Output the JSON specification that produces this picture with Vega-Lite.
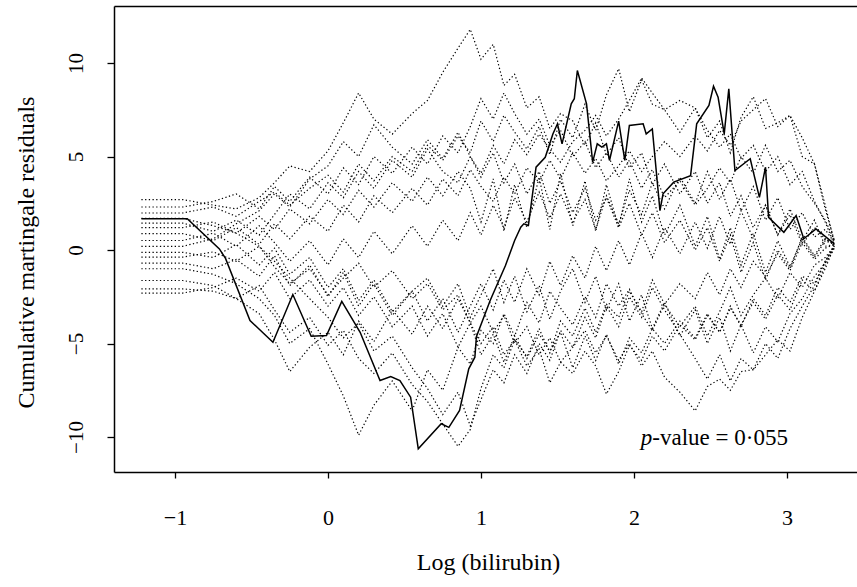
{
"$schema":"https://vega.github.io/schema/vega-lite/v6.json",
"width":743,"height":466,
"autosize":{"type":"none"},
"padding":{"left":114,"top":6,"right":0,"bottom":115},
"background":"white",
"config":{"view":{"stroke":null},"font":"Liberation Serif"},
"datasets":{
"obs":[
{"x":-1.22,"y":1.67},{"x":-0.92,"y":1.67},{"x":-0.71,"y":0.06},{"x":-0.67,"y":-0.45},{"x":-0.51,"y":-3.77},{"x":-0.36,"y":-4.93},{"x":-0.23,"y":-2.38},{"x":-0.11,"y":-4.61},{"x":-0.01,"y":-4.57},{"x":0.09,"y":-2.75},{"x":0.21,"y":-4.4},{"x":0.34,"y":-6.98},{"x":0.41,"y":-6.76},{"x":0.47,"y":-6.98},{"x":0.54,"y":-7.87},{"x":0.59,"y":-10.63},{"x":0.74,"y":-9.29},{"x":0.79,"y":-9.48},{"x":0.86,"y":-8.58},{"x":0.92,"y":-6.35},{"x":0.96,"y":-5.73},{"x":0.97,"y":-4.63},{"x":1.06,"y":-2.7},{"x":1.16,"y":-0.83},{"x":1.22,"y":0.51},{"x":1.26,"y":1.22},{"x":1.28,"y":1.4},{"x":1.31,"y":1.31},{"x":1.36,"y":4.43},{"x":1.42,"y":4.96},{"x":1.47,"y":6.21},{"x":1.5,"y":6.75},{"x":1.53,"y":5.68},{"x":1.59,"y":7.82},{"x":1.61,"y":8.09},{"x":1.63,"y":9.6},{"x":1.69,"y":7.82},{"x":1.73,"y":4.7},{"x":1.76,"y":5.68},{"x":1.79,"y":5.5},{"x":1.82,"y":5.68},{"x":1.84,"y":4.79},{"x":1.9,"y":6.89},{"x":1.94,"y":4.79},{"x":1.97,"y":6.66},{"x":2.06,"y":6.75},{"x":2.08,"y":6.21},{"x":2.12,"y":6.48},{"x":2.17,"y":2.11},{"x":2.19,"y":3.01},{"x":2.26,"y":3.63},{"x":2.37,"y":3.98},{"x":2.41,"y":6.75},{"x":2.49,"y":7.73},{"x":2.52,"y":8.76},{"x":2.55,"y":8.17},{"x":2.59,"y":6.21},{"x":2.62,"y":8.62},{"x":2.66,"y":4.25},{"x":2.76,"y":4.88},{"x":2.82,"y":2.82},{"x":2.86,"y":4.43},{"x":2.88,"y":1.75},{"x":2.98,"y":0.95},{"x":3.06,"y":1.84},{"x":3.11,"y":0.6},{"x":3.19,"y":1.13},{"x":3.31,"y":0.33}
],
"sim":[
{"r":"a","x":-1.22,"y":2.7},{"r":"a","x":-0.95,"y":2.7},{"r":"a","x":-0.75,"y":2.4},{"r":"a","x":-0.6,"y":2.2},{"r":"a","x":-0.45,"y":2.8},{"r":"a","x":-0.35,"y":3.6},{"r":"a","x":-0.25,"y":4.5},{"r":"a","x":-0.12,"y":4.2},{"r":"a","x":0,"y":5.3},{"r":"a","x":0.1,"y":6.8},{"r":"a","x":0.2,"y":8.4},{"r":"a","x":0.3,"y":7.0},{"r":"a","x":0.42,"y":6.2},{"r":"a","x":0.55,"y":7.3},{"r":"a","x":0.65,"y":8.0},{"r":"a","x":0.75,"y":9.5},{"r":"a","x":0.85,"y":10.8},{"r":"a","x":0.93,"y":11.8},{"r":"a","x":1,"y":10.2},{"r":"a","x":1.08,"y":11.0},{"r":"a","x":1.15,"y":8.8},{"r":"a","x":1.22,"y":9.4},{"r":"a","x":1.3,"y":7.6},{"r":"a","x":1.38,"y":8.2},{"r":"a","x":1.45,"y":6.5},{"r":"a","x":1.52,"y":7.3},{"r":"a","x":1.6,"y":6.9},{"r":"a","x":1.68,"y":5.6},{"r":"a","x":1.75,"y":6.8},{"r":"a","x":1.82,"y":5.1},{"r":"a","x":1.9,"y":6.0},{"r":"a","x":1.97,"y":4.4},{"r":"a","x":2.05,"y":5.2},{"r":"a","x":2.12,"y":3.5},{"r":"a","x":2.2,"y":4.6},{"r":"a","x":2.3,"y":3.0},{"r":"a","x":2.4,"y":4.2},{"r":"a","x":2.48,"y":2.5},{"r":"a","x":2.56,"y":3.6},{"r":"a","x":2.63,"y":1.8},{"r":"a","x":2.7,"y":2.9},{"r":"a","x":2.78,"y":1.2},{"r":"a","x":2.86,"y":2.4},{"r":"a","x":2.94,"y":0.8},{"r":"a","x":3.02,"y":1.9},{"r":"a","x":3.1,"y":0.3},{"r":"a","x":3.18,"y":1.2},{"r":"a","x":3.25,"y":0.6},{"r":"a","x":3.31,"y":0.3},
{"r":"b","x":-1.22,"y":1.98},{"r":"b","x":-0.95,"y":1.98},{"r":"b","x":-0.75,"y":2.3},{"r":"b","x":-0.6,"y":1.8},{"r":"b","x":-0.45,"y":2.6},{"r":"b","x":-0.35,"y":3.1},{"r":"b","x":-0.25,"y":2.4},{"r":"b","x":-0.12,"y":3.3},{"r":"b","x":0,"y":4.0},{"r":"b","x":0.1,"y":3.1},{"r":"b","x":0.2,"y":4.6},{"r":"b","x":0.3,"y":3.7},{"r":"b","x":0.42,"y":5.0},{"r":"b","x":0.55,"y":4.2},{"r":"b","x":0.65,"y":5.6},{"r":"b","x":0.75,"y":4.8},{"r":"b","x":0.85,"y":6.1},{"r":"b","x":0.93,"y":5.2},{"r":"b","x":1,"y":6.9},{"r":"b","x":1.08,"y":5.8},{"r":"b","x":1.15,"y":7.2},{"r":"b","x":1.22,"y":6.3},{"r":"b","x":1.3,"y":5.4},{"r":"b","x":1.38,"y":6.6},{"r":"b","x":1.45,"y":5.1},{"r":"b","x":1.52,"y":7.0},{"r":"b","x":1.6,"y":6.0},{"r":"b","x":1.68,"y":7.8},{"r":"b","x":1.75,"y":6.4},{"r":"b","x":1.82,"y":8.3},{"r":"b","x":1.9,"y":9.7},{"r":"b","x":1.97,"y":7.4},{"r":"b","x":2.05,"y":9.1},{"r":"b","x":2.12,"y":7.8},{"r":"b","x":2.2,"y":7.5},{"r":"b","x":2.3,"y":6.3},{"r":"b","x":2.4,"y":7.6},{"r":"b","x":2.48,"y":6.0},{"r":"b","x":2.56,"y":6.9},{"r":"b","x":2.63,"y":5.2},{"r":"b","x":2.7,"y":7.1},{"r":"b","x":2.78,"y":8.2},{"r":"b","x":2.86,"y":6.5},{"r":"b","x":2.94,"y":6.8},{"r":"b","x":3.02,"y":7.2},{"r":"b","x":3.1,"y":5.0},{"r":"b","x":3.18,"y":4.6},{"r":"b","x":3.25,"y":2.4},{"r":"b","x":3.31,"y":0.4},
{"r":"c","x":-1.22,"y":-1.0},{"r":"c","x":-0.95,"y":-1.0},{"r":"c","x":-0.75,"y":-1.3},{"r":"c","x":-0.6,"y":-1.8},{"r":"c","x":-0.45,"y":-2.6},{"r":"c","x":-0.35,"y":-3.5},{"r":"c","x":-0.25,"y":-5.0},{"r":"c","x":-0.12,"y":-4.2},{"r":"c","x":0,"y":-6.1},{"r":"c","x":0.1,"y":-7.8},{"r":"c","x":0.2,"y":-9.9},{"r":"c","x":0.3,"y":-8.3},{"r":"c","x":0.42,"y":-7.0},{"r":"c","x":0.55,"y":-8.6},{"r":"c","x":0.65,"y":-6.4},{"r":"c","x":0.75,"y":-7.5},{"r":"c","x":0.85,"y":-5.2},{"r":"c","x":0.93,"y":-6.1},{"r":"c","x":1,"y":-4.3},{"r":"c","x":1.08,"y":-5.0},{"r":"c","x":1.15,"y":-3.4},{"r":"c","x":1.22,"y":-4.6},{"r":"c","x":1.3,"y":-2.8},{"r":"c","x":1.38,"y":-3.9},{"r":"c","x":1.45,"y":-2.2},{"r":"c","x":1.52,"y":-3.1},{"r":"c","x":1.6,"y":-4.0},{"r":"c","x":1.68,"y":-2.5},{"r":"c","x":1.75,"y":-3.6},{"r":"c","x":1.82,"y":-1.8},{"r":"c","x":1.9,"y":-3.0},{"r":"c","x":1.97,"y":-2.1},{"r":"c","x":2.05,"y":-3.4},{"r":"c","x":2.12,"y":-4.3},{"r":"c","x":2.2,"y":-2.9},{"r":"c","x":2.3,"y":-4.1},{"r":"c","x":2.4,"y":-3.0},{"r":"c","x":2.48,"y":-4.6},{"r":"c","x":2.56,"y":-3.3},{"r":"c","x":2.63,"y":-2.0},{"r":"c","x":2.7,"y":-3.5},{"r":"c","x":2.78,"y":-2.4},{"r":"c","x":2.86,"y":-1.5},{"r":"c","x":2.94,"y":-2.6},{"r":"c","x":3.02,"y":-1.2},{"r":"c","x":3.1,"y":-2.0},{"r":"c","x":3.18,"y":-0.8},{"r":"c","x":3.25,"y":-0.4},{"r":"c","x":3.31,"y":0.2},
{"r":"d","x":-1.22,"y":-2.08},{"r":"d","x":-0.95,"y":-2.08},{"r":"d","x":-0.75,"y":-2.2},{"r":"d","x":-0.6,"y":-2.6},{"r":"d","x":-0.45,"y":-1.9},{"r":"d","x":-0.35,"y":-3.2},{"r":"d","x":-0.25,"y":-4.4},{"r":"d","x":-0.12,"y":-3.6},{"r":"d","x":0,"y":-5.1},{"r":"d","x":0.1,"y":-4.3},{"r":"d","x":0.2,"y":-5.8},{"r":"d","x":0.3,"y":-6.6},{"r":"d","x":0.42,"y":-5.5},{"r":"d","x":0.55,"y":-7.2},{"r":"d","x":0.65,"y":-8.1},{"r":"d","x":0.75,"y":-9.3},{"r":"d","x":0.85,"y":-10.5},{"r":"d","x":0.93,"y":-9.6},{"r":"d","x":1,"y":-7.4},{"r":"d","x":1.08,"y":-5.6},{"r":"d","x":1.15,"y":-6.3},{"r":"d","x":1.22,"y":-4.8},{"r":"d","x":1.3,"y":-5.7},{"r":"d","x":1.38,"y":-4.2},{"r":"d","x":1.45,"y":-5.5},{"r":"d","x":1.52,"y":-3.8},{"r":"d","x":1.6,"y":-4.6},{"r":"d","x":1.68,"y":-3.1},{"r":"d","x":1.75,"y":-4.4},{"r":"d","x":1.82,"y":-2.9},{"r":"d","x":1.9,"y":-3.6},{"r":"d","x":1.97,"y":-2.2},{"r":"d","x":2.05,"y":-3.3},{"r":"d","x":2.12,"y":-1.6},{"r":"d","x":2.2,"y":-2.9},{"r":"d","x":2.3,"y":-1.8},{"r":"d","x":2.4,"y":-2.6},{"r":"d","x":2.48,"y":-1.2},{"r":"d","x":2.56,"y":-2.4},{"r":"d","x":2.63,"y":-1.0},{"r":"d","x":2.7,"y":-2.0},{"r":"d","x":2.78,"y":-0.6},{"r":"d","x":2.86,"y":-1.4},{"r":"d","x":2.94,"y":-0.2},{"r":"d","x":3.02,"y":-1.1},{"r":"d","x":3.1,"y":0.4},{"r":"d","x":3.18,"y":-0.5},{"r":"d","x":3.25,"y":0.1},{"r":"d","x":3.31,"y":0.3},
{"r":"e","x":-1.22,"y":-0.38},{"r":"e","x":-0.95,"y":-0.38},{"r":"e","x":-0.75,"y":-0.1},{"r":"e","x":-0.6,"y":-0.6},{"r":"e","x":-0.45,"y":0.2},{"r":"e","x":-0.35,"y":-0.9},{"r":"e","x":-0.25,"y":-1.8},{"r":"e","x":-0.12,"y":-1.0},{"r":"e","x":0,"y":-2.4},{"r":"e","x":0.1,"y":-1.5},{"r":"e","x":0.2,"y":-0.7},{"r":"e","x":0.3,"y":-2.0},{"r":"e","x":0.42,"y":-1.1},{"r":"e","x":0.55,"y":-2.6},{"r":"e","x":0.65,"y":-1.8},{"r":"e","x":0.75,"y":-3.2},{"r":"e","x":0.85,"y":-2.4},{"r":"e","x":0.93,"y":-3.9},{"r":"e","x":1,"y":-3.0},{"r":"e","x":1.08,"y":-4.4},{"r":"e","x":1.15,"y":-3.5},{"r":"e","x":1.22,"y":-5.0},{"r":"e","x":1.3,"y":-4.1},{"r":"e","x":1.38,"y":-5.6},{"r":"e","x":1.45,"y":-4.7},{"r":"e","x":1.52,"y":-6.0},{"r":"e","x":1.6,"y":-5.2},{"r":"e","x":1.68,"y":-4.3},{"r":"e","x":1.75,"y":-5.5},{"r":"e","x":1.82,"y":-4.6},{"r":"e","x":1.9,"y":-5.9},{"r":"e","x":1.97,"y":-5.0},{"r":"e","x":2.05,"y":-6.2},{"r":"e","x":2.12,"y":-5.4},{"r":"e","x":2.2,"y":-6.8},{"r":"e","x":2.3,"y":-7.6},{"r":"e","x":2.4,"y":-8.6},{"r":"e","x":2.48,"y":-7.3},{"r":"e","x":2.56,"y":-6.9},{"r":"e","x":2.63,"y":-7.5},{"r":"e","x":2.7,"y":-6.5},{"r":"e","x":2.78,"y":-6.4},{"r":"e","x":2.86,"y":-5.6},{"r":"e","x":2.94,"y":-4.8},{"r":"e","x":3.02,"y":-5.4},{"r":"e","x":3.1,"y":-3.6},{"r":"e","x":3.18,"y":-2.2},{"r":"e","x":3.25,"y":-1.0},{"r":"e","x":3.31,"y":0.2},
{"r":"f","x":-1.22,"y":1.44},{"r":"f","x":-0.95,"y":1.44},{"r":"f","x":-0.75,"y":1.0},{"r":"f","x":-0.6,"y":1.6},{"r":"f","x":-0.45,"y":0.8},{"r":"f","x":-0.35,"y":1.9},{"r":"f","x":-0.25,"y":3.0},{"r":"f","x":-0.12,"y":2.2},{"r":"f","x":0,"y":3.6},{"r":"f","x":0.1,"y":2.8},{"r":"f","x":0.2,"y":4.2},{"r":"f","x":0.3,"y":3.3},{"r":"f","x":0.42,"y":4.8},{"r":"f","x":0.55,"y":3.9},{"r":"f","x":0.65,"y":5.4},{"r":"f","x":0.75,"y":4.2},{"r":"f","x":0.85,"y":3.6},{"r":"f","x":0.93,"y":5.0},{"r":"f","x":1,"y":4.1},{"r":"f","x":1.08,"y":5.6},{"r":"f","x":1.15,"y":4.6},{"r":"f","x":1.22,"y":5.9},{"r":"f","x":1.3,"y":5.1},{"r":"f","x":1.38,"y":6.2},{"r":"f","x":1.45,"y":5.4},{"r":"f","x":1.52,"y":4.7},{"r":"f","x":1.6,"y":5.8},{"r":"f","x":1.68,"y":6.4},{"r":"f","x":1.75,"y":7.2},{"r":"f","x":1.82,"y":6.1},{"r":"f","x":1.9,"y":7.0},{"r":"f","x":1.97,"y":8.0},{"r":"f","x":2.05,"y":9.2},{"r":"f","x":2.12,"y":8.4},{"r":"f","x":2.2,"y":7.5},{"r":"f","x":2.3,"y":8.0},{"r":"f","x":2.4,"y":7.6},{"r":"f","x":2.48,"y":6.4},{"r":"f","x":2.56,"y":5.5},{"r":"f","x":2.63,"y":6.2},{"r":"f","x":2.7,"y":4.9},{"r":"f","x":2.78,"y":5.6},{"r":"f","x":2.86,"y":4.2},{"r":"f","x":2.94,"y":5.0},{"r":"f","x":3.02,"y":3.5},{"r":"f","x":3.1,"y":4.2},{"r":"f","x":3.18,"y":2.6},{"r":"f","x":3.25,"y":1.5},{"r":"f","x":3.31,"y":0.3},
{"r":"g","x":-1.22,"y":0.88},{"r":"g","x":-0.95,"y":0.88},{"r":"g","x":-0.75,"y":0.5},{"r":"g","x":-0.6,"y":1.2},{"r":"g","x":-0.45,"y":0.3},{"r":"g","x":-0.35,"y":1.4},{"r":"g","x":-0.25,"y":0.6},{"r":"g","x":-0.12,"y":1.8},{"r":"g","x":0,"y":1.0},{"r":"g","x":0.1,"y":2.4},{"r":"g","x":0.2,"y":1.5},{"r":"g","x":0.3,"y":2.9},{"r":"g","x":0.42,"y":2.0},{"r":"g","x":0.55,"y":3.3},{"r":"g","x":0.65,"y":2.4},{"r":"g","x":0.75,"y":3.8},{"r":"g","x":0.85,"y":2.9},{"r":"g","x":0.93,"y":4.3},{"r":"g","x":1,"y":3.4},{"r":"g","x":1.08,"y":2.6},{"r":"g","x":1.15,"y":3.9},{"r":"g","x":1.22,"y":3.0},{"r":"g","x":1.3,"y":4.4},{"r":"g","x":1.38,"y":3.6},{"r":"g","x":1.45,"y":4.8},{"r":"g","x":1.52,"y":3.8},{"r":"g","x":1.6,"y":5.2},{"r":"g","x":1.68,"y":4.1},{"r":"g","x":1.75,"y":4.9},{"r":"g","x":1.82,"y":3.7},{"r":"g","x":1.9,"y":4.5},{"r":"g","x":1.97,"y":5.3},{"r":"g","x":2.05,"y":4.2},{"r":"g","x":2.12,"y":5.0},{"r":"g","x":2.2,"y":5.8},{"r":"g","x":2.3,"y":5.0},{"r":"g","x":2.4,"y":6.1},{"r":"g","x":2.48,"y":5.3},{"r":"g","x":2.56,"y":6.4},{"r":"g","x":2.63,"y":5.6},{"r":"g","x":2.7,"y":6.9},{"r":"g","x":2.78,"y":7.5},{"r":"g","x":2.86,"y":8.1},{"r":"g","x":2.94,"y":6.6},{"r":"g","x":3.02,"y":7.2},{"r":"g","x":3.1,"y":6.0},{"r":"g","x":3.18,"y":4.6},{"r":"g","x":3.25,"y":2.2},{"r":"g","x":3.31,"y":0.5},
{"r":"h","x":-1.22,"y":0.51},{"r":"h","x":-0.95,"y":0.51},{"r":"h","x":-0.75,"y":0.9},{"r":"h","x":-0.6,"y":0.2},{"r":"h","x":-0.45,"y":1.3},{"r":"h","x":-0.35,"y":0.4},{"r":"h","x":-0.25,"y":-0.6},{"r":"h","x":-0.12,"y":0.5},{"r":"h","x":0,"y":-0.8},{"r":"h","x":0.1,"y":0.6},{"r":"h","x":0.2,"y":-0.4},{"r":"h","x":0.3,"y":1.0},{"r":"h","x":0.42,"y":-0.2},{"r":"h","x":0.55,"y":1.3},{"r":"h","x":0.65,"y":0.2},{"r":"h","x":0.75,"y":1.6},{"r":"h","x":0.85,"y":0.5},{"r":"h","x":0.93,"y":2.0},{"r":"h","x":1,"y":0.8},{"r":"h","x":1.08,"y":2.4},{"r":"h","x":1.15,"y":1.2},{"r":"h","x":1.22,"y":2.8},{"r":"h","x":1.3,"y":1.5},{"r":"h","x":1.38,"y":3.1},{"r":"h","x":1.45,"y":1.7},{"r":"h","x":1.52,"y":3.0},{"r":"h","x":1.6,"y":1.5},{"r":"h","x":1.68,"y":2.7},{"r":"h","x":1.75,"y":1.1},{"r":"h","x":1.82,"y":2.9},{"r":"h","x":1.9,"y":1.4},{"r":"h","x":1.97,"y":3.2},{"r":"h","x":2.05,"y":1.9},{"r":"h","x":2.12,"y":3.6},{"r":"h","x":2.2,"y":2.2},{"r":"h","x":2.3,"y":3.9},{"r":"h","x":2.4,"y":2.5},{"r":"h","x":2.48,"y":4.2},{"r":"h","x":2.56,"y":2.7},{"r":"h","x":2.63,"y":3.8},{"r":"h","x":2.7,"y":2.1},{"r":"h","x":2.78,"y":3.4},{"r":"h","x":2.86,"y":1.6},{"r":"h","x":2.94,"y":2.8},{"r":"h","x":3.02,"y":1.1},{"r":"h","x":3.1,"y":2.0},{"r":"h","x":3.18,"y":0.7},{"r":"h","x":3.25,"y":1.1},{"r":"h","x":3.31,"y":0.4},
{"r":"i","x":-1.22,"y":-0.12},{"r":"i","x":-0.95,"y":-0.12},{"r":"i","x":-0.75,"y":-0.4},{"r":"i","x":-0.6,"y":0.3},{"r":"i","x":-0.45,"y":-0.8},{"r":"i","x":-0.35,"y":0.1},{"r":"i","x":-0.25,"y":-1.3},{"r":"i","x":-0.12,"y":-0.4},{"r":"i","x":0,"y":-2.0},{"r":"i","x":0.1,"y":-1.0},{"r":"i","x":0.2,"y":-2.7},{"r":"i","x":0.3,"y":-1.6},{"r":"i","x":0.42,"y":-3.3},{"r":"i","x":0.55,"y":-2.2},{"r":"i","x":0.65,"y":-3.8},{"r":"i","x":0.75,"y":-2.6},{"r":"i","x":0.85,"y":-4.4},{"r":"i","x":0.93,"y":-3.0},{"r":"i","x":1,"y":-1.8},{"r":"i","x":1.08,"y":-3.2},{"r":"i","x":1.15,"y":-1.6},{"r":"i","x":1.22,"y":-2.8},{"r":"i","x":1.3,"y":-1.0},{"r":"i","x":1.38,"y":-2.4},{"r":"i","x":1.45,"y":-0.6},{"r":"i","x":1.52,"y":-1.9},{"r":"i","x":1.6,"y":-0.3},{"r":"i","x":1.68,"y":-1.5},{"r":"i","x":1.75,"y":0.2},{"r":"i","x":1.82,"y":-1.1},{"r":"i","x":1.9,"y":0.5},{"r":"i","x":1.97,"y":-0.8},{"r":"i","x":2.05,"y":0.9},{"r":"i","x":2.12,"y":-0.4},{"r":"i","x":2.2,"y":1.2},{"r":"i","x":2.3,"y":-0.2},{"r":"i","x":2.4,"y":1.5},{"r":"i","x":2.48,"y":0.1},{"r":"i","x":2.56,"y":1.8},{"r":"i","x":2.63,"y":0.3},{"r":"i","x":2.7,"y":2.1},{"r":"i","x":2.78,"y":0.6},{"r":"i","x":2.86,"y":2.4},{"r":"i","x":2.94,"y":0.8},{"r":"i","x":3.02,"y":2.2},{"r":"i","x":3.1,"y":0.5},{"r":"i","x":3.18,"y":1.6},{"r":"i","x":3.25,"y":0.2},{"r":"i","x":3.31,"y":0.3},
{"r":"j","x":-1.22,"y":-1.63},{"r":"j","x":-0.95,"y":-1.63},{"r":"j","x":-0.75,"y":-1.9},{"r":"j","x":-0.6,"y":-2.6},{"r":"j","x":-0.45,"y":-3.4},{"r":"j","x":-0.35,"y":-4.8},{"r":"j","x":-0.25,"y":-6.5},{"r":"j","x":-0.12,"y":-5.2},{"r":"j","x":0,"y":-4.4},{"r":"j","x":0.1,"y":-5.6},{"r":"j","x":0.2,"y":-3.8},{"r":"j","x":0.3,"y":-4.9},{"r":"j","x":0.42,"y":-3.2},{"r":"j","x":0.55,"y":-4.5},{"r":"j","x":0.65,"y":-3.0},{"r":"j","x":0.75,"y":-4.2},{"r":"j","x":0.85,"y":-2.6},{"r":"j","x":0.93,"y":-3.9},{"r":"j","x":1,"y":-5.0},{"r":"j","x":1.08,"y":-4.1},{"r":"j","x":1.15,"y":-5.6},{"r":"j","x":1.22,"y":-4.8},{"r":"j","x":1.3,"y":-6.2},{"r":"j","x":1.38,"y":-5.3},{"r":"j","x":1.45,"y":-7.1},{"r":"j","x":1.52,"y":-6.0},{"r":"j","x":1.6,"y":-6.6},{"r":"j","x":1.68,"y":-5.4},{"r":"j","x":1.75,"y":-6.2},{"r":"j","x":1.82,"y":-7.7},{"r":"j","x":1.9,"y":-6.5},{"r":"j","x":1.97,"y":-5.1},{"r":"j","x":2.05,"y":-5.9},{"r":"j","x":2.12,"y":-4.6},{"r":"j","x":2.2,"y":-5.4},{"r":"j","x":2.3,"y":-4.0},{"r":"j","x":2.4,"y":-4.8},{"r":"j","x":2.48,"y":-3.5},{"r":"j","x":2.56,"y":-4.4},{"r":"j","x":2.63,"y":-3.0},{"r":"j","x":2.7,"y":-4.1},{"r":"j","x":2.78,"y":-2.6},{"r":"j","x":2.86,"y":-3.5},{"r":"j","x":2.94,"y":-2.0},{"r":"j","x":3.02,"y":-2.8},{"r":"j","x":3.1,"y":-1.4},{"r":"j","x":3.18,"y":-1.8},{"r":"j","x":3.25,"y":-0.6},{"r":"j","x":3.31,"y":0.2},
{"r":"k","x":-1.22,"y":2.3},{"r":"k","x":-0.95,"y":2.3},{"r":"k","x":-0.75,"y":2.6},{"r":"k","x":-0.6,"y":3.0},{"r":"k","x":-0.45,"y":2.2},{"r":"k","x":-0.35,"y":3.4},{"r":"k","x":-0.25,"y":2.6},{"r":"k","x":-0.12,"y":3.9},{"r":"k","x":0,"y":3.0},{"r":"k","x":0.1,"y":4.4},{"r":"k","x":0.2,"y":3.5},{"r":"k","x":0.3,"y":5.0},{"r":"k","x":0.42,"y":4.1},{"r":"k","x":0.55,"y":5.5},{"r":"k","x":0.65,"y":4.6},{"r":"k","x":0.75,"y":6.1},{"r":"k","x":0.85,"y":5.2},{"r":"k","x":0.93,"y":6.6},{"r":"k","x":1,"y":8.1},{"r":"k","x":1.08,"y":7.0},{"r":"k","x":1.15,"y":8.4},{"r":"k","x":1.22,"y":7.3},{"r":"k","x":1.3,"y":6.2},{"r":"k","x":1.38,"y":7.0},{"r":"k","x":1.45,"y":5.6},{"r":"k","x":1.52,"y":6.4},{"r":"k","x":1.6,"y":5.0},{"r":"k","x":1.68,"y":5.8},{"r":"k","x":1.75,"y":4.4},{"r":"k","x":1.82,"y":5.2},{"r":"k","x":1.9,"y":3.9},{"r":"k","x":1.97,"y":4.8},{"r":"k","x":2.05,"y":3.3},{"r":"k","x":2.12,"y":4.3},{"r":"k","x":2.2,"y":2.8},{"r":"k","x":2.3,"y":3.7},{"r":"k","x":2.4,"y":2.4},{"r":"k","x":2.48,"y":3.3},{"r":"k","x":2.56,"y":4.4},{"r":"k","x":2.63,"y":3.6},{"r":"k","x":2.7,"y":5.0},{"r":"k","x":2.78,"y":4.1},{"r":"k","x":2.86,"y":5.6},{"r":"k","x":2.94,"y":4.2},{"r":"k","x":3.02,"y":4.8},{"r":"k","x":3.1,"y":3.4},{"r":"k","x":3.18,"y":2.5},{"r":"k","x":3.25,"y":1.6},{"r":"k","x":3.31,"y":0.5},
{"r":"l","x":-1.22,"y":-2.3},{"r":"l","x":-0.95,"y":-2.3},{"r":"l","x":-0.75,"y":-2.0},{"r":"l","x":-0.6,"y":-1.5},{"r":"l","x":-0.45,"y":-2.2},{"r":"l","x":-0.35,"y":-1.2},{"r":"l","x":-0.25,"y":-2.6},{"r":"l","x":-0.12,"y":-1.6},{"r":"l","x":0,"y":-3.0},{"r":"l","x":0.1,"y":-2.0},{"r":"l","x":0.2,"y":-3.5},{"r":"l","x":0.3,"y":-2.5},{"r":"l","x":0.42,"y":-4.1},{"r":"l","x":0.55,"y":-3.0},{"r":"l","x":0.65,"y":-4.6},{"r":"l","x":0.75,"y":-3.4},{"r":"l","x":0.85,"y":-5.2},{"r":"l","x":0.93,"y":-3.9},{"r":"l","x":1,"y":-5.6},{"r":"l","x":1.08,"y":-4.5},{"r":"l","x":1.15,"y":-6.0},{"r":"l","x":1.22,"y":-4.6},{"r":"l","x":1.3,"y":-5.8},{"r":"l","x":1.38,"y":-4.5},{"r":"l","x":1.45,"y":-5.4},{"r":"l","x":1.52,"y":-4.4},{"r":"l","x":1.6,"y":-6.3},{"r":"l","x":1.68,"y":-4.6},{"r":"l","x":1.75,"y":-5.9},{"r":"l","x":1.82,"y":-4.5},{"r":"l","x":1.9,"y":-6.1},{"r":"l","x":1.97,"y":-4.7},{"r":"l","x":2.05,"y":-5.5},{"r":"l","x":2.12,"y":-4.2},{"r":"l","x":2.2,"y":-5.0},{"r":"l","x":2.3,"y":-3.8},{"r":"l","x":2.4,"y":-4.7},{"r":"l","x":2.48,"y":-3.4},{"r":"l","x":2.56,"y":-4.4},{"r":"l","x":2.63,"y":-3.1},{"r":"l","x":2.7,"y":-4.0},{"r":"l","x":2.78,"y":-2.8},{"r":"l","x":2.86,"y":-3.7},{"r":"l","x":2.94,"y":-2.4},{"r":"l","x":3.02,"y":-3.2},{"r":"l","x":3.1,"y":-1.6},{"r":"l","x":3.18,"y":-2.2},{"r":"l","x":3.25,"y":-0.8},{"r":"l","x":3.31,"y":0.1},
{"r":"m","x":-1.22,"y":1.2},{"r":"m","x":-0.95,"y":1.2},{"r":"m","x":-0.75,"y":1.5},{"r":"m","x":-0.6,"y":0.9},{"r":"m","x":-0.45,"y":1.8},{"r":"m","x":-0.35,"y":1.1},{"r":"m","x":-0.25,"y":2.2},{"r":"m","x":-0.12,"y":1.4},{"r":"m","x":0,"y":2.7},{"r":"m","x":0.1,"y":1.9},{"r":"m","x":0.2,"y":3.2},{"r":"m","x":0.3,"y":2.3},{"r":"m","x":0.42,"y":3.6},{"r":"m","x":0.55,"y":2.6},{"r":"m","x":0.65,"y":3.9},{"r":"m","x":0.75,"y":2.9},{"r":"m","x":0.85,"y":4.2},{"r":"m","x":0.93,"y":3.3},{"r":"m","x":1,"y":1.5},{"r":"m","x":1.08,"y":3.8},{"r":"m","x":1.15,"y":1.0},{"r":"m","x":1.22,"y":3.5},{"r":"m","x":1.3,"y":1.2},{"r":"m","x":1.38,"y":3.9},{"r":"m","x":1.45,"y":1.1},{"r":"m","x":1.52,"y":4.1},{"r":"m","x":1.6,"y":1.3},{"r":"m","x":1.68,"y":3.7},{"r":"m","x":1.75,"y":1.0},{"r":"m","x":1.82,"y":3.5},{"r":"m","x":1.9,"y":1.2},{"r":"m","x":1.97,"y":3.8},{"r":"m","x":2.05,"y":1.5},{"r":"m","x":2.12,"y":2.9},{"r":"m","x":2.2,"y":0.8},{"r":"m","x":2.3,"y":2.4},{"r":"m","x":2.4,"y":0.2},{"r":"m","x":2.48,"y":1.8},{"r":"m","x":2.56,"y":-0.5},{"r":"m","x":2.63,"y":1.2},{"r":"m","x":2.7,"y":-0.8},{"r":"m","x":2.78,"y":0.9},{"r":"m","x":2.86,"y":-1.2},{"r":"m","x":2.94,"y":0.5},{"r":"m","x":3.02,"y":-0.9},{"r":"m","x":3.1,"y":0.6},{"r":"m","x":3.18,"y":-0.4},{"r":"m","x":3.25,"y":0.5},{"r":"m","x":3.31,"y":0.3},
{"r":"n","x":-1.22,"y":-0.7},{"r":"n","x":-0.95,"y":-0.7},{"r":"n","x":-0.75,"y":-1.0},{"r":"n","x":-0.6,"y":-0.5},{"r":"n","x":-0.45,"y":-1.4},{"r":"n","x":-0.35,"y":-0.3},{"r":"n","x":-0.25,"y":-1.9},{"r":"n","x":-0.12,"y":-0.8},{"r":"n","x":0,"y":-2.5},{"r":"n","x":0.1,"y":-1.2},{"r":"n","x":0.2,"y":-3.0},{"r":"n","x":0.3,"y":-1.8},{"r":"n","x":0.42,"y":-3.5},{"r":"n","x":0.55,"y":-2.2},{"r":"n","x":0.65,"y":-1.5},{"r":"n","x":0.75,"y":-3.0},{"r":"n","x":0.85,"y":-1.8},{"r":"n","x":0.93,"y":-3.6},{"r":"n","x":1,"y":-2.4},{"r":"n","x":1.08,"y":-1.0},{"r":"n","x":1.15,"y":-2.8},{"r":"n","x":1.22,"y":-1.4},{"r":"n","x":1.3,"y":-3.3},{"r":"n","x":1.38,"y":-1.9},{"r":"n","x":1.45,"y":-3.7},{"r":"n","x":1.52,"y":-2.2},{"r":"n","x":1.6,"y":-1.0},{"r":"n","x":1.68,"y":-2.8},{"r":"n","x":1.75,"y":-1.4},{"r":"n","x":1.82,"y":-3.2},{"r":"n","x":1.9,"y":-1.8},{"r":"n","x":1.97,"y":-3.8},{"r":"n","x":2.05,"y":-2.4},{"r":"n","x":2.12,"y":-4.2},{"r":"n","x":2.2,"y":-2.8},{"r":"n","x":2.3,"y":-4.6},{"r":"n","x":2.4,"y":-3.2},{"r":"n","x":2.48,"y":-5.0},{"r":"n","x":2.56,"y":-3.6},{"r":"n","x":2.63,"y":-5.4},{"r":"n","x":2.7,"y":-4.0},{"r":"n","x":2.78,"y":-5.5},{"r":"n","x":2.86,"y":-4.1},{"r":"n","x":2.94,"y":-4.9},{"r":"n","x":3.02,"y":-3.4},{"r":"n","x":3.1,"y":-2.6},{"r":"n","x":3.18,"y":-1.4},{"r":"n","x":3.25,"y":-0.7},{"r":"n","x":3.31,"y":0.3},
{"r":"o","x":-1.22,"y":0.2},{"r":"o","x":-0.95,"y":0.2},{"r":"o","x":-0.75,"y":0.6},{"r":"o","x":-0.6,"y":1.4},{"r":"o","x":-0.45,"y":2.1},{"r":"o","x":-0.35,"y":3.0},{"r":"o","x":-0.25,"y":2.3},{"r":"o","x":-0.12,"y":3.8},{"r":"o","x":0,"y":4.5},{"r":"o","x":0.1,"y":5.8},{"r":"o","x":0.2,"y":5.0},{"r":"o","x":0.3,"y":6.7},{"r":"o","x":0.42,"y":5.5},{"r":"o","x":0.55,"y":4.6},{"r":"o","x":0.65,"y":5.9},{"r":"o","x":0.75,"y":4.9},{"r":"o","x":0.85,"y":6.3},{"r":"o","x":0.93,"y":5.0},{"r":"o","x":1,"y":3.9},{"r":"o","x":1.08,"y":5.2},{"r":"o","x":1.15,"y":3.6},{"r":"o","x":1.22,"y":4.6},{"r":"o","x":1.3,"y":3.0},{"r":"o","x":1.38,"y":4.2},{"r":"o","x":1.45,"y":2.5},{"r":"o","x":1.52,"y":3.7},{"r":"o","x":1.6,"y":2.0},{"r":"o","x":1.68,"y":3.3},{"r":"o","x":1.75,"y":1.6},{"r":"o","x":1.82,"y":2.8},{"r":"o","x":1.9,"y":1.2},{"r":"o","x":1.97,"y":2.5},{"r":"o","x":2.05,"y":0.8},{"r":"o","x":2.12,"y":2.0},{"r":"o","x":2.2,"y":0.4},{"r":"o","x":2.3,"y":1.6},{"r":"o","x":2.4,"y":0.0},{"r":"o","x":2.48,"y":1.2},{"r":"o","x":2.56,"y":-0.6},{"r":"o","x":2.63,"y":0.8},{"r":"o","x":2.7,"y":-1.2},{"r":"o","x":2.78,"y":0.4},{"r":"o","x":2.86,"y":-1.6},{"r":"o","x":2.94,"y":0.0},{"r":"o","x":3.02,"y":-1.0},{"r":"o","x":3.1,"y":0.7},{"r":"o","x":3.18,"y":-0.3},{"r":"o","x":3.25,"y":0.6},{"r":"o","x":3.31,"y":0.3},
{"r":"p","x":-1.22,"y":1.7},{"r":"p","x":-0.95,"y":1.7},{"r":"p","x":-0.75,"y":1.3},{"r":"p","x":-0.6,"y":0.9},{"r":"p","x":-0.45,"y":0.2},{"r":"p","x":-0.35,"y":-0.6},{"r":"p","x":-0.25,"y":-1.5},{"r":"p","x":-0.12,"y":-2.6},{"r":"p","x":0,"y":-3.6},{"r":"p","x":0.1,"y":-4.7},{"r":"p","x":0.2,"y":-3.9},{"r":"p","x":0.3,"y":-5.4},{"r":"p","x":0.42,"y":-4.6},{"r":"p","x":0.55,"y":-6.3},{"r":"p","x":0.65,"y":-7.4},{"r":"p","x":0.75,"y":-8.8},{"r":"p","x":0.85,"y":-7.6},{"r":"p","x":0.93,"y":-9.4},{"r":"p","x":1,"y":-8.0},{"r":"p","x":1.08,"y":-6.4},{"r":"p","x":1.15,"y":-7.1},{"r":"p","x":1.22,"y":-5.6},{"r":"p","x":1.3,"y":-6.6},{"r":"p","x":1.38,"y":-5.0},{"r":"p","x":1.45,"y":-5.9},{"r":"p","x":1.52,"y":-4.3},{"r":"p","x":1.6,"y":-5.2},{"r":"p","x":1.68,"y":-3.6},{"r":"p","x":1.75,"y":-4.7},{"r":"p","x":1.82,"y":-3.0},{"r":"p","x":1.9,"y":-4.1},{"r":"p","x":1.97,"y":-2.5},{"r":"p","x":2.05,"y":-3.6},{"r":"p","x":2.12,"y":-2.0},{"r":"p","x":2.2,"y":-3.2},{"r":"p","x":2.3,"y":-4.5},{"r":"p","x":2.4,"y":-5.8},{"r":"p","x":2.48,"y":-6.9},{"r":"p","x":2.56,"y":-5.6},{"r":"p","x":2.63,"y":-7.0},{"r":"p","x":2.7,"y":-5.8},{"r":"p","x":2.78,"y":-6.4},{"r":"p","x":2.86,"y":-5.0},{"r":"p","x":2.94,"y":-5.8},{"r":"p","x":3.02,"y":-4.2},{"r":"p","x":3.1,"y":-3.0},{"r":"p","x":3.18,"y":-1.9},{"r":"p","x":3.25,"y":-0.6},{"r":"p","x":3.31,"y":0.2}
]
},
"resolve":{"axis":{"x":"independent"}},
"layer":[
{"data":{"name":"sim"},
 "mark":{"type":"line","color":"black","strokeWidth":1.2,"strokeDash":[1.3,2.4],"clip":true},
 "encoding":{
  "x":{"field":"x","type":"quantitative","scale":{"domain":[-1.399,3.458],"nice":false,"zero":false},
   "axis":{"values":[-1,0,1,2,3],"title":"Log (bilirubin)","grid":false,"domain":true,"domainColor":"black","domainWidth":1.5,"tickColor":"black","tickWidth":1.3,"tickSize":6,"labelFont":"Liberation Serif","labelFontSize":22,"labelColor":"black","labelPadding":29,"labelFlush":false,"titleFont":"Liberation Serif","titleFontSize":24,"titleFontWeight":"normal","titleColor":"black","titleX":374,"titleY":97,"titleBaseline":"alphabetic","titleAlign":"center","titleAnchor":"start"}},
  "y":{"field":"y","type":"quantitative","scale":{"domain":[-11.87,13.05],"nice":false,"zero":false},
   "axis":{"values":[-10,-5,0,5,10],"title":"Cumulative martingale residuals","grid":false,"domain":true,"domainColor":"black","domainWidth":1.5,"tickColor":"black","tickWidth":1.3,"tickSize":7,"labelFont":"Liberation Serif","labelFontSize":21,"labelColor":"black","labelAngle":-90,"labelAlign":"center","labelBaseline":"alphabetic","labelPadding":25,"labelFlush":false,"titleFont":"Liberation Serif","titleFontSize":24,"titleFontWeight":"normal","titleColor":"black","titleX":-81,"titleY":246,"titleBaseline":"alphabetic","titleAlign":"center","titleAnchor":"start","titleAngle":-90}},
  "detail":{"field":"r","type":"nominal"}
 }},
{"data":{"name":"obs"},
 "mark":{"type":"line","color":"black","strokeWidth":1.5,"clip":true},
 "encoding":{
  "x":{"field":"x","type":"quantitative","axis":null},
  "y":{"field":"y","type":"quantitative"}
 }},
{"data":{"values":[{}]},
 "mark":{"type":"text","font":"Liberation Serif","fontStyle":"italic","fontSize":23,"align":"right","baseline":"alphabetic","color":"black"},
 "encoding":{
  "x":{"datum":2.12,"type":"quantitative","axis":{"orient":"top","labels":false,"ticks":false,"title":null,"grid":false,"domain":true,"domainColor":"black","domainWidth":1.5}},
  "y":{"datum":-10.43,"type":"quantitative"},
  "text":{"value":"p"}
 }},
{"data":{"values":[{}]},
 "mark":{"type":"text","font":"Liberation Serif","fontSize":23,"align":"left","baseline":"alphabetic","color":"black"},
 "encoding":{
  "x":{"datum":2.12,"type":"quantitative","axis":null},
  "y":{"datum":-10.43,"type":"quantitative"},
  "text":{"value":"-value = 0·055"}
 }}
]
}
